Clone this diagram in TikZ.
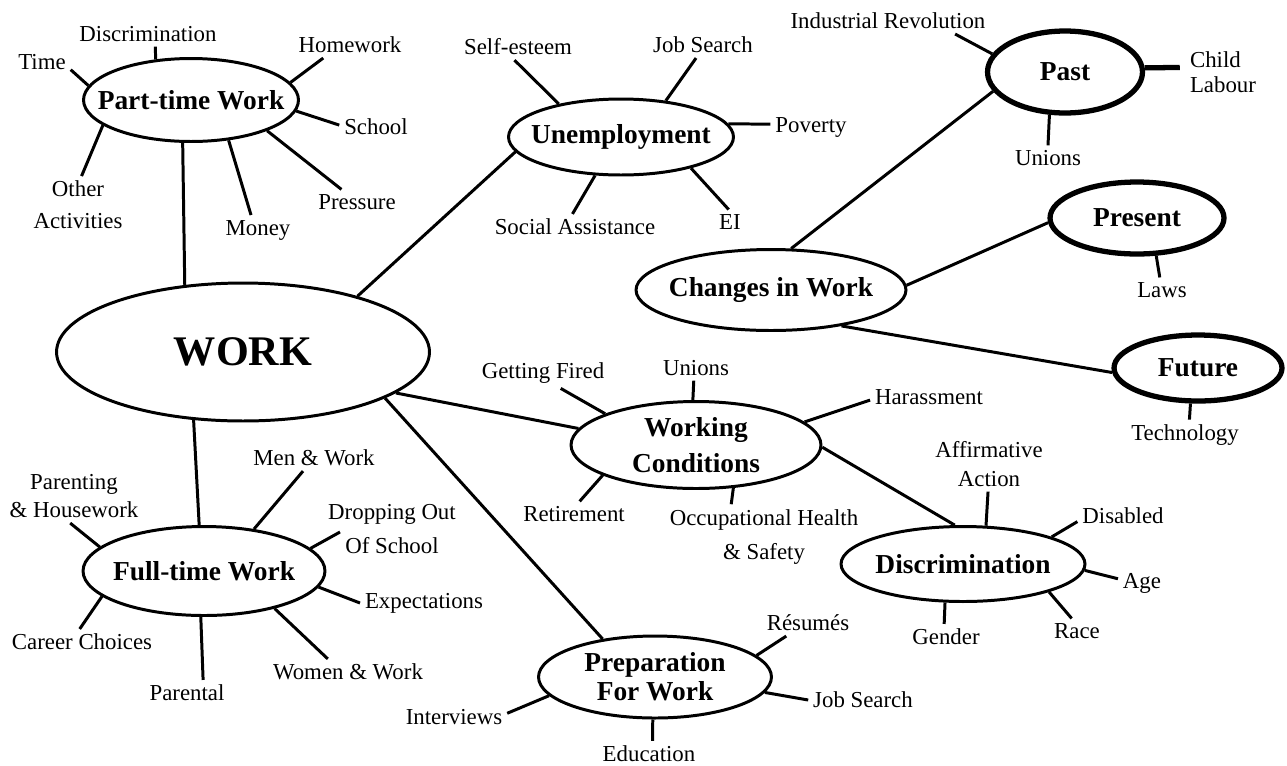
\documentclass[tikz,border=0pt]{standalone}
\usepackage{fontspec}
\setmainfont{Liberation Serif}
\usetikzlibrary{shapes.geometric}

\begin{document}
\begin{tikzpicture}[x=0.02cm, y=-0.02cm, line width=1.7pt,
      hub/.style={shape=ellipse, draw, line width=1.7pt, inner sep=0pt},
      era/.style={hub, line width=3pt},
      hubtxt/.style={font=\fontsize{15.6}{18.7}\selectfont\bfseries, align=center},
      leaf/.style={font=\fontsize{13}{15.6}\selectfont, inner sep=2pt, align=center}]
    \useasboundingbox (0,0) rectangle (1287,765);

    \node[hub, minimum width=7.46cm, minimum height=2.76cm,
      label={[hubtxt, font=\fontsize{24}{28}\selectfont\bfseries]center:WORK}] (wrk) at (243,352) {};
    \node[hub, minimum width=4.3cm, minimum height=1.66cm,
      label={[hubtxt]center:Part-time Work}] (pt) at (191,100) {};
    \node[hub, minimum width=4.5cm, minimum height=1.52cm,
      label={[hubtxt]center:Unemployment}] (un) at (621,137) {};
    \node[hub, minimum width=5.4cm, minimum height=1.62cm,
      label={[hubtxt]center:Changes in Work}] (cw) at (771,290) {};
    \node[era, minimum width=3.1cm, minimum height=1.64cm,
      label={[hubtxt]center:Past}] (pst) at (1065,72) {};
    \node[era, minimum width=3.48cm, minimum height=1.44cm,
      label={[hubtxt]center:Present}] (prs) at (1137,218) {};
    \node[era, minimum width=3.36cm, minimum height=1.32cm,
      label={[hubtxt]center:Future}] (fut) at (1198,368) {};
    \node[hub, minimum width=5.0cm, minimum height=1.74cm,
      label={[hubtxt]center:{Working\\[1.7pt]Conditions}}] (wc) at (696,445) {};
    \node[hub, minimum width=4.66cm, minimum height=1.64cm,
      label={[hubtxt]center:{Preparation\\[-2.3pt]For Work}}] (prp) at (655,677) {};
    \node[hub, minimum width=4.88cm, minimum height=1.5cm,
      label={[hubtxt]center:Discrimination}] (dsc) at (963,564) {};
    \node[hub, minimum width=4.84cm, minimum height=1.78cm,
      label={[hubtxt]center:Full-time Work}] (ft) at (204,571) {};

    \draw (wrk.131) -- (pt.259);
    \draw (wrk.26) -- (un.188);
    \draw (wrk.234) -- (ft.96);
    \draw (wrk.345) -- (wc.172);
    \draw (wrk.342) -- (prp.144);
    \draw (cw.64) -- (pst.195);
    \draw (cw.2) -- (prs.183);
    \draw (cw.333) -- (fut.183);
    \draw (wc.359) -- (dsc.102);

    \node[leaf] (ptDis) at (148,34) {Discrimination};
    \node[leaf] (ptTim) at (42,62) {Time};
    \node[leaf] (ptHom) at (350,45) {Homework};
    \node[leaf] (ptSch) at (376,127) {School};
    \node[leaf] (ptPrs) at (357,202) {Pressure};
    \node[leaf] (ptMon) at (258,230) {Money};
    \node[leaf] (ptOth) at (78,205) {Other\\[2.5pt]Activities};
    \draw (pt.131) -- (ptDis.-60);
    \draw (pt.172) -- (ptTim.-15);
    \draw (pt.10) -- (ptHom.206);
    \draw (pt.354) -- (ptSch.177);
    \draw (pt.338) -- (ptPrs.141);
    \draw (pt.313) -- (ptMon.115);
    \draw (pt.196) -- (ptOth.83);

    \node[leaf] (unSel) at (518,47) {Self-esteem};
    \node[leaf] (unJob) at (703,45) {Job Search};
    \node[leaf] (unPov) at (811,127) {Poverty};
    \node[leaf] (unEI) at (730,222) {EI};
    \node[leaf] (unSoc) at (575,227) {Social Assistance};
    \draw (un.152) -- (unSel.-105);
    \draw (un.39) -- (unJob.-118);
    \draw (un.7) -- (unPov.176);
    \draw (un.336) -- (unEI.96);
    \draw (un.236) -- (unSoc.101);

    \node[leaf] (paInd) at (888,21) {Industrial Revolution};
    \node[leaf, align=left, inner xsep=5pt] (paChl) at (1223,72) {Child\\[-1.4pt]Labour};
    \node[leaf] (paUni) at (1048,158) {Unions};
    \node[leaf] (prLaw) at (1162,290) {Laws};
    \node[leaf] (fuTec) at (1185,435) {Technology};
    \draw (pst.166) -- (paInd.-11);
    \draw[line width=3pt] (pst.3) -- (paChl.174);
    \draw (pst.250) -- (paUni.90);
    \draw (prs.297) -- (prLaw.100);
    \draw (fut.258) -- (fuTec.74);

    \node[leaf] (wcFir) at (543,373) {Getting Fired};
    \node[leaf] (wcUni) at (696,368) {Unions};
    \node[leaf] (wcHar) at (929,397) {Harassment};
    \node[leaf] (wcRet) at (574,514) {Retirement};
    \node[leaf] (wcOcc) at (764,537) {Occupational Health\\[4.2pt]\& Safety};
    \draw (wc.161) -- (wcFir.-41);
    \draw (wc.94) -- (wcUni.-100);
    \draw (wc.12) -- (wcHar.183);
    \draw (wc.198) -- (wcRet.66);
    \draw (wc.311) -- (wcOcc.135);

    \node[leaf] (prRes) at (808,623) {Résumés};
    \node[leaf] (prJob) at (863,700) {Job Search};
    \node[leaf] (prInt) at (454,717) {Interviews};
    \node[leaf] (prEdu) at (649,754) {Education};
    \draw (prp.12) -- (prRes.211);
    \draw (prp.352) -- (prJob.180);
    \draw (prp.190) -- (prInt.4);
    \draw (prp.267) -- (prEdu.75);

    \node[leaf] (diAff) at (989,464) {Affirmative\\[0.8pt]Action};
    \node[leaf] (diDis) at (1123,516) {Disabled};
    \node[leaf] (diAge) at (1142,583) {Age};
    \node[leaf] (diRac) at (1077,631) {Race};
    \node[leaf] (diGen) at (946,637) {Gender};
    \draw (dsc.59) -- (diAff.-92);
    \draw (dsc.17) -- (diDis.187);
    \draw (dsc.357) -- (diAge.170);
    \draw (dsc.342) -- (diRac.113);
    \draw (dsc.245) -- (diGen.98);

    \node[leaf] (ftMen) at (314,458) {Men \& Work};
    \node[leaf] (ftPar) at (74,496) {Parenting\\[0.8pt]\& Housework};
    \node[leaf] (ftDrp) at (392,529) {Dropping Out\\[3.7pt]Of School};
    \node[leaf] (ftExp) at (424,603) {Expectations};
    \node[leaf] (ftWom) at (348,672) {Women \& Work};
    \node[leaf] (ftPal) at (187,693) {Parental};
    \node[leaf] (ftCar) at (82,642) {Career Choices};
    \coordinate (ftDrpEnd) at (340,532);
    \draw (ft.40) -- (ftMen.230);
    \draw (ft.167) -- (ftPar.262);
    \draw (ft.12) -- (ftDrpEnd);
    \draw (ft.352) -- (ftExp.180);
    \draw (ft.332) -- (ftWom.147);
    \draw (ft.266) -- (ftPal.39);
    \draw (ft.194) -- (ftCar.100);
\end{tikzpicture}
\end{document}
